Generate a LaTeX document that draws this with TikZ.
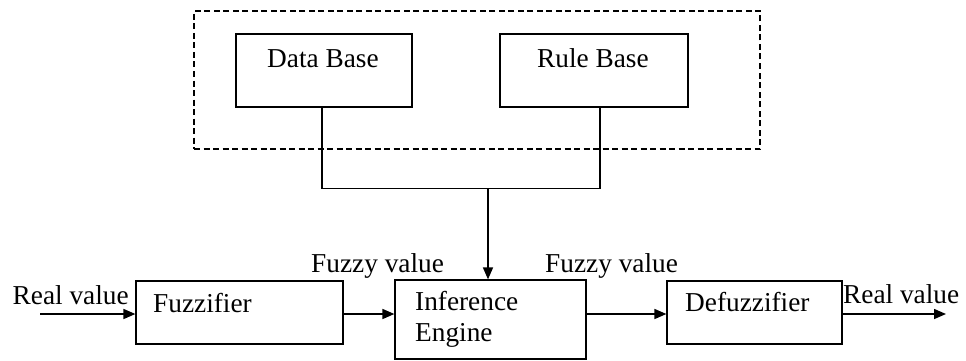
\documentclass[tikz,border=0pt]{standalone}
\usepackage{fontspec}
\setmainfont{Liberation Serif}
\usetikzlibrary{arrows.meta}
\begin{document}
\begin{tikzpicture}[x=1pt,y=-1pt,
  box/.style={draw,line width=1.2pt,rectangle,inner sep=0pt},
  dashbox/.style={draw,line width=1.1pt,dash pattern=on 6pt off 3.5pt,rectangle,inner sep=0pt},
  txt/.style={inner sep=0pt,font=\fontsize{27.3}{31}\selectfont},
  conn/.style={line width=1.2pt},
  arr/.style={line width=1.5pt,-{Triangle[length=12pt,width=10pt]}}]
\useasboundingbox (0,0) rectangle (966,361);
% knowledge base (dashed)
\node[dashbox,minimum width=566pt,minimum height=138pt] (kb) at (477,80) {};
\node[box,minimum width=176pt,minimum height=73pt] (db) at (324,70.5) {};
\node[box,minimum width=188pt,minimum height=73pt] (rb) at (594,70.5) {};
\node[txt,anchor=base west] (dbt) at (267,67) {Data Base};
\node[txt,anchor=base west] (rbt) at (537,67) {Rule Base};
% main chain
\node[box,minimum width=207pt,minimum height=63pt] (fuz) at (239.5,312.5) {};
\node[box,minimum width=191pt,minimum height=79pt] (inf) at (490.5,319.5) {};
\node[box,minimum width=175pt,minimum height=63pt] (def) at (754.5,312.5) {};
\node[txt,anchor=base west] (fuzt) at (153,312) {Fuzzifier};
\node[txt,anchor=base west] (inft1) at (415,310) {Inference};
\node[txt,anchor=base west] (inft2) at (415,341) {Engine};
\node[txt,anchor=base west] (deft) at (685,311) {Defuzzifier};
% labels on arrows
\node[txt,anchor=base west] (rvl) at (12.5,304) {Real value};
\node[txt,anchor=base west] (fvl) at (311,272) {Fuzzy value};
\node[txt,anchor=base west] (fvr) at (545,272) {Fuzzy value};
\node[txt,anchor=base west] (rvr) at (843,303) {Real value};
% connectors
\coordinate (in) at (40,314);
\coordinate (out) at (946,314);
\coordinate (j) at (488,188);
\draw[conn] ([xshift=-2pt]db.south) -- ++(0,81) -| ([xshift=6pt]rb.south);
\draw[arr] (j) -- (j |- inf.north);
\draw[arr] (in) -- (in -| fuz.west);
\draw[arr] (in -| fuz.east) -- (in -| inf.west);
\draw[arr] (in -| inf.east) -- (in -| def.west);
\draw[arr] (in -| def.east) -- (out);
\end{tikzpicture}
\end{document}
